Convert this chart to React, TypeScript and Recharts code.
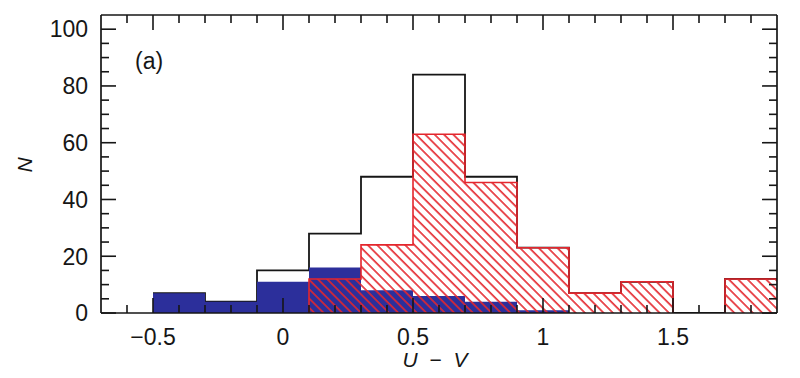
import { Area, ComposedChart, XAxis, YAxis } from "recharts";

// histogram bins of U - V (left edges + last right edge)
const binEdges = [-0.5, -0.3, -0.1, 0.1, 0.3, 0.5, 0.7, 0.9, 1.1, 1.3, 1.5, 1.7, 1.9];
const allCounts = [7, 4, 15, 28, 48, 84, 48, 23, 7, 11, 0, 12];
const blueCounts = [7, 4, 11, 16, 8, 6, 4, 1, 0, 0, 0, 0];
const redCounts = [0, 0, 0, 12, 24, 63, 46, 23, 7, 11, 0, 12];

const xMajorTicks = [-0.5, 0, 0.5, 1, 1.5];
const xTickLabels = ["\u22120.5", "0", "0.5", "1", "1.5"];
const xTicks = [-0.6, -0.5, -0.4, -0.3, -0.2, -0.1, 0, 0.1, 0.2, 0.3, 0.4, 0.5, 0.6, 0.7, 0.8, 0.9, 1, 1.1, 1.2, 1.3, 1.4, 1.5, 1.6, 1.7, 1.8];
const yMajorTicks = [0, 20, 40, 60, 80, 100];
const yTickLabels = ["0", "20", "40", "60", "80", "100"];
const yTicks = [0, 5, 10, 15, 20, 25, 30, 35, 40, 45, 50, 55, 60, 65, 70, 75, 80, 85, 90, 95, 100];

const FONT = '"Liberation Sans", Arial, Helvetica, sans-serif';
const INK = "#161616";
const BLUE = "#2c2f9b";
const RED = "#e4262d";

type Row = { x: number; all: number; blue: number; red: number | null };

// step rows; red is broken (null) where its bins are empty
const rows: Row[] = [];
binEdges.slice(0, -1).forEach((x0, i) => {
  const red = redCounts[i];
  const prevRed = i > 0 ? redCounts[i - 1] : 0;
  const base = { x: x0, all: allCounts[i], blue: blueCounts[i] };
  if (red > 0 && prevRed === 0) rows.push({ ...base, red: 0 });
  if (red === 0 && prevRed > 0) rows.push({ ...base, red: 0 });
  rows.push({ ...base, red: red > 0 ? red : null });
});
const last = binEdges.length - 2;
rows.push({
  x: binEdges[last + 1],
  all: allCounts[last],
  blue: blueCounts[last],
  red: redCounts[last] > 0 ? redCounts[last] : null,
});

const majorIdx = (list: number[], v: number) => list.findIndex((m) => Math.abs(m - v) < 1e-6);

const BottomTick = (p: any) => {
  const i = majorIdx(xMajorTicks, p.payload.value);
  return (
    <g>
      <line x1={p.x} x2={p.x} y1={p.y} y2={p.y - (i >= 0 ? 15 : 8)} stroke={INK} strokeWidth={1.6} />
      {i >= 0 && (
        <text x={p.x} y={p.y + 32} textAnchor="middle" fontSize={23} fontFamily={FONT} fill={INK}>
          {xTickLabels[i]}
        </text>
      )}
    </g>
  );
};

const TopTick = (p: any) => {
  const i = majorIdx(xMajorTicks, p.payload.value);
  return <line x1={p.x} x2={p.x} y1={p.y} y2={p.y + (i >= 0 ? 15 : 8)} stroke={INK} strokeWidth={1.6} />;
};

const LeftTick = (p: any) => {
  const i = majorIdx(yMajorTicks, p.payload.value);
  return (
    <g>
      <line x1={p.x} x2={p.x + (i >= 0 ? 15 : 8)} y1={p.y} y2={p.y} stroke={INK} strokeWidth={1.6} />
      {i >= 0 && (
        <text x={p.x - 13} y={p.y} dy="0.36em" textAnchor="end" fontSize={23} fontFamily={FONT} fill={INK}>
          {yTickLabels[i]}
        </text>
      )}
    </g>
  );
};

const RightTick = (p: any) => {
  const i = majorIdx(yMajorTicks, p.payload.value);
  return <line x1={p.x} x2={p.x - (i >= 0 ? 15 : 8)} y1={p.y} y2={p.y} stroke={INK} strokeWidth={1.6} />;
};

const XTitle = (p: any) => {
  const vb = p.viewBox || { x: 93, y: 305, width: 676 };
  return (
    <text x={vb.x + vb.width / 2 - 4} y={vb.y + 54} textAnchor="middle" fontSize={21} fontFamily={FONT} fill={INK} style={{ whiteSpace: "pre" }}>
      <tspan fontStyle="italic">U</tspan>
      <tspan>{"  \u2212  "}</tspan>
      <tspan fontStyle="italic">V</tspan>
    </text>
  );
};

const YTitle = (p: any) => {
  const vb = p.viewBox || { x: 0, y: 7, height: 298 };
  const cy = vb.y + vb.height / 2 + 1;
  return (
    <text x={24} y={cy} transform={`rotate(-90 24 ${cy})`} textAnchor="middle" fontSize={21} fontStyle="italic" fontFamily={FONT} fill={INK}>
      N
    </text>
  );
};

const PanelTag = (p: any) => {
  const vb = p.viewBox || { x: 93, y: 6, height: 1 };
  return (
    <text x={vb.x + 34} y={vb.y + vb.height + 54} fontSize={23} fontFamily={FONT} fill={INK}>
      (a)
    </text>
  );
};

export default function App() {
  return (
    <div style={{ width: 784, height: 370, background: "#fff" }}>
      <ComposedChart width={784} height={370} data={rows} margin={{ top: 6, right: 14, bottom: 8, left: 0 }}>
        <defs>
          <pattern id="redHatch" patternUnits="userSpaceOnUse" width={6.6} height={6.6} patternTransform="rotate(-45)">
            <line x1={1} y1={0} x2={1} y2={6.6} stroke={RED} strokeWidth={1.6} />
          </pattern>
        </defs>
        <XAxis
          dataKey="x"
          type="number"
          domain={[-0.7, 1.9]}
          ticks={xTicks}
          interval={0}
          height={57}
          tickSize={0}
          tickMargin={0}
          tickLine={false}
          tick={BottomTick}
          axisLine={{ stroke: INK, strokeWidth: 1.7 }}
          allowDataOverflow
          label={XTitle}
        />
        <XAxis
          xAxisId="top"
          orientation="top"
          dataKey="x"
          type="number"
          domain={[-0.7, 1.9]}
          ticks={xTicks}
          interval={0}
          height={1}
          tickSize={0}
          tickMargin={0}
          tickLine={false}
          tick={TopTick}
          axisLine={{ stroke: INK, strokeWidth: 1.7 }}
          allowDataOverflow
          label={PanelTag}
        />
        <YAxis
          type="number"
          domain={[0, 105]}
          ticks={yTicks}
          interval={0}
          width={93}
          tickSize={0}
          tickMargin={0}
          tickLine={false}
          tick={LeftTick}
          axisLine={{ stroke: INK, strokeWidth: 1.7 }}
          allowDataOverflow
          label={YTitle}
        />
        <YAxis
          yAxisId="right"
          orientation="right"
          type="number"
          domain={[0, 105]}
          ticks={yTicks}
          interval={0}
          width={1}
          tickSize={0}
          tickMargin={0}
          tickLine={false}
          tick={RightTick}
          axisLine={{ stroke: INK, strokeWidth: 1.7 }}
          allowDataOverflow
        />
        <Area
          dataKey="all"
          type="stepAfter"
          stroke={INK}
          strokeWidth={1.8}
          fill="none"
          dot={false}
          activeDot={false}
          isAnimationActive={false}
        />
        <Area
          dataKey="blue"
          type="stepAfter"
          stroke="none"
          fill={BLUE}
          fillOpacity={1}
          dot={false}
          activeDot={false}
          isAnimationActive={false}
        />
        <Area
          dataKey="red"
          type="stepAfter"
          stroke={RED}
          strokeWidth={1.6}
          fill="url(#redHatch)"
          fillOpacity={1}
          connectNulls={false}
          dot={false}
          activeDot={false}
          isAnimationActive={false}
        />
      </ComposedChart>
    </div>
  );
}
